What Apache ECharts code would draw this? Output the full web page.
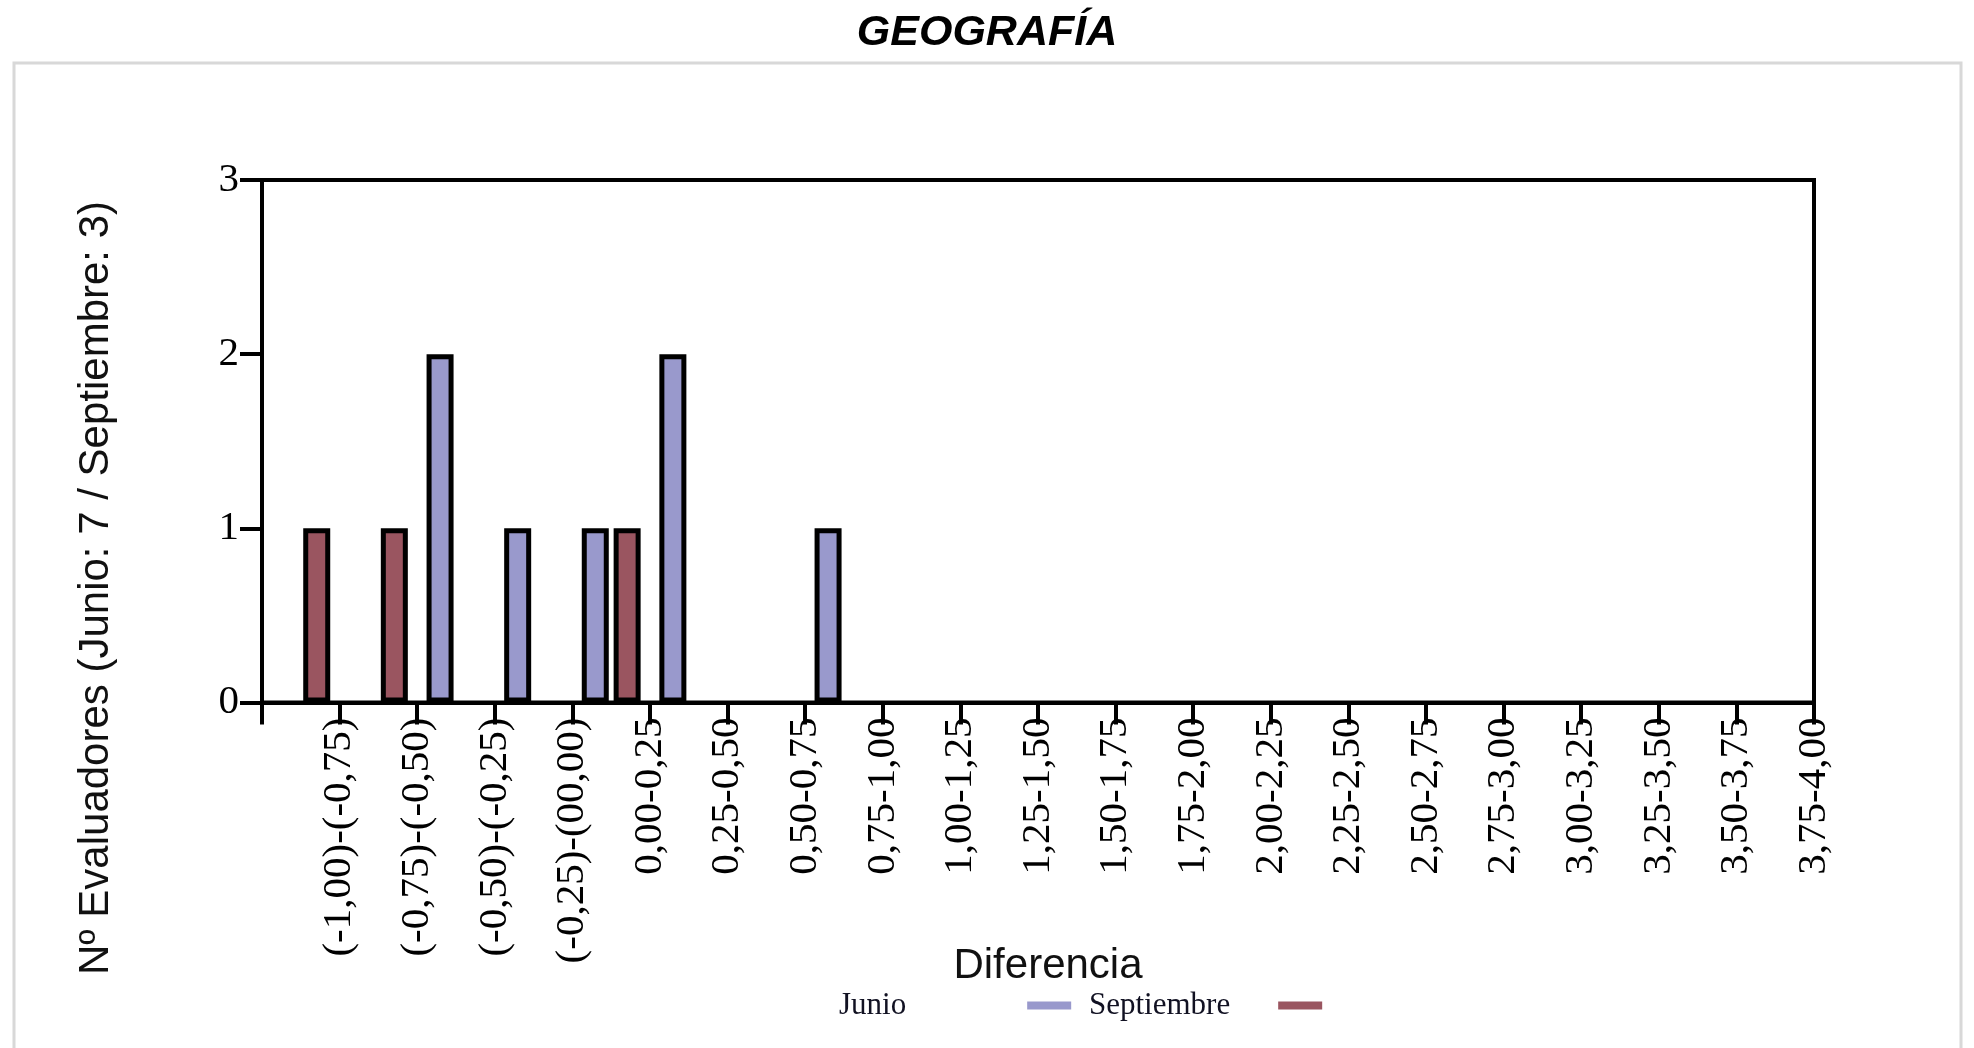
<!DOCTYPE html>
<html>
<head>
<meta charset="utf-8">
<script src="https://cdn.jsdelivr.net/npm/echarts@6/dist/echarts.min.js"></script>
<style>
  html, body { margin: 0; padding: 0; background: #ffffff; }
  #chart { width: 1974px; height: 1048px; }
</style>
</head>
<body>
<div id="chart"></div>
<script>
const titleText = 'GEOGRAFÍA';
const yAxisName = 'Nº Evaluadores (Junio: 7 / Septiembre: 3)';
const xAxisName = 'Diferencia';
const seriesNames = ['Junio', 'Septiembre'];
const categories = [
  '(-1,00)-(-0,75)', '(-0,75)-(-0,50)', '(-0,50)-(-0,25)', '(-0,25)-(00,00)',
  '0,00-0,25', '0,25-0,50', '0,50-0,75', '0,75-1,00', '1,00-1,25', '1,25-1,50',
  '1,50-1,75', '1,75-2,00', '2,00-2,25', '2,25-2,50', '2,50-2,75', '2,75-3,00',
  '3,00-3,25', '3,25-3,50', '3,50-3,75', '3,75-4,00'
];
const junio =      [0, 0, 2, 1, 1, 2, 0, 1, 0, 0, 0, 0, 0, 0, 0, 0, 0, 0, 0, 0];
const septiembre = [1, 1, 0, 0, 1, 0, 0, 0, 0, 0, 0, 0, 0, 0, 0, 0, 0, 0, 0, 0];
const yTicks = [0, 1, 2, 3];

const chart = echarts.init(document.getElementById('chart'), null, { renderer: 'canvas' });
const serif = '"Liberation Serif", "Times New Roman", serif';
const sans = '"Liberation Sans", Arial, sans-serif';
const nz = arr => arr.map(v => (v === 0 ? null : v));

function legendFor(name, left, gapToIcon) {
  return {
    data: [name],
    left: left,
    top: 985,
    align: 'right',
    itemWidth: 44,
    itemHeight: 8,
    icon: 'rect',
    itemStyle: { borderWidth: 0 },
    textStyle: { fontFamily: serif, fontSize: 31, color: '#111122', padding: [0, gapToIcon, 0, 0] }
  };
}

const option = {
  backgroundColor: '#ffffff',
  animation: false,
  title: {
    text: titleText,
    left: 'center',
    top: 7,
    textStyle: { fontFamily: sans, fontSize: 43, fontWeight: 'bold', fontStyle: 'italic', color: '#000' }
  },
  legend: [
    legendFor(seriesNames[0], 834, 116),
    legendFor(seriesNames[1], 1084, 43)
  ],
  grid: {
    left: 262, right: 160, top: 180, bottom: 345.5,
    show: true, borderColor: '#000', borderWidth: 4, containLabel: false
  },
  xAxis: [
    {
      type: 'category',
      data: categories,
      boundaryGap: true,
      position: 'bottom',
      axisLine: { show: true, lineStyle: { color: '#000', width: 4 } },
      axisTick: { show: false },
      axisLabel: { show: false },
      splitLine: { show: false },
      name: xAxisName,
      nameLocation: 'middle',
      nameGap: 243,
      nameTextStyle: { fontFamily: sans, fontSize: 42, color: '#111', padding: [0, 0, 0, 20] }
    },
    {
      type: 'category',
      data: [''].concat(categories),
      boundaryGap: false,
      position: 'bottom',
      axisLine: { show: false },
      axisTick: { show: true, interval: 0, length: 22, lineStyle: { color: '#000', width: 4 } },
      axisLabel: {
        show: true, interval: 0, rotate: 90, margin: 15,
        fontFamily: serif, fontSize: 41, color: '#000',
        padding: [0, 0, 20, 0]
      },
      splitLine: { show: false }
    }
  ],
  yAxis: {
    type: 'value',
    min: yTicks[0],
    max: yTicks[yTicks.length - 1],
    interval: 1,
    axisLine: { show: true, lineStyle: { color: '#000', width: 4 } },
    axisTick: { show: true, length: 22, lineStyle: { color: '#000', width: 4 } },
    axisLabel: { margin: 23, fontFamily: serif, fontSize: 41, color: '#000' },
    splitLine: { show: false }
  },
  series: [
    {
      name: seriesNames[0],
      type: 'bar',
      xAxisIndex: 0,
      data: nz(junio),
      barWidth: 27,
      barGap: '18%',
      itemStyle: { color: '#9999cc', borderColor: '#000', borderWidth: 5 }
    },
    {
      name: seriesNames[1],
      type: 'bar',
      xAxisIndex: 0,
      data: nz(septiembre),
      barWidth: 27,
      barGap: '18%',
      itemStyle: { color: '#9a5560', borderColor: '#000', borderWidth: 5 }
    }
  ],
  graphic: [
    {
      type: 'rect',
      silent: true,
      z: -1,
      shape: { x: 14, y: 63, width: 1947, height: 1100 },
      style: { fill: 'none', stroke: '#d8d8d8', lineWidth: 3 }
    },
    {
      type: 'text',
      x: 96,
      y: 588,
      rotation: Math.PI / 2,
      style: {
        text: yAxisName,
        fontFamily: sans,
        fontSize: 42,
        fill: '#111',
        align: 'center',
        verticalAlign: 'middle'
      }
    }
  ]
};
chart.setOption(option);
</script>
</body>
</html>
